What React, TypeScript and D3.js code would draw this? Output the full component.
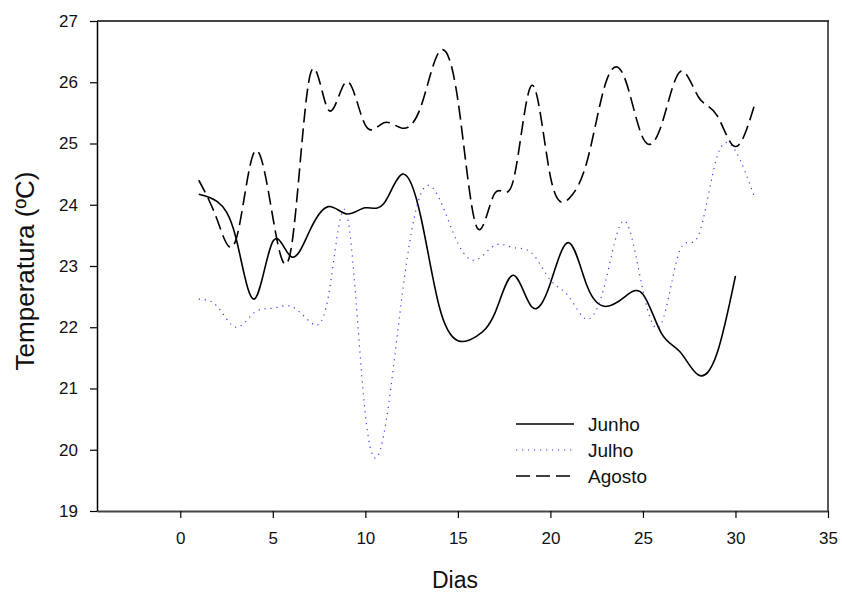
import React, { useEffect, useRef } from 'react';
import * as d3 from 'd3';

const days = d3.range(1, 32);

const junho = [
  24.17, 24.05, 23.47, 22.46, 23.4, 23.15, 23.58, 23.97, 23.85, 23.95,
  24.02, 24.5, 23.8, 22.33, 21.78, 21.85, 22.23, 22.85, 22.33, 22.72,
  23.38, 22.66, 22.34, 22.49, 22.54, 21.9, 21.6, 21.22, 21.57, 22.84
];

const julho = [
  22.46, 22.34, 22.0, 22.24, 22.31, 22.34, 22.09, 22.5, 23.85, 20.58,
  20.25, 22.55, 24.18, 24.1, 23.37, 23.1, 23.34, 23.3, 23.21, 22.77,
  22.5, 22.13, 22.77, 23.74, 22.6, 22.06, 23.26, 23.5, 24.78, 24.88,
  24.15
];

const agosto = [
  24.4, 23.75, 23.42, 24.86, 23.8, 23.3, 26.1, 25.55, 26.01, 25.3,
  25.34, 25.25, 25.6, 26.5, 25.71, 23.65, 24.19, 24.4, 25.95, 24.46,
  24.1, 24.73, 26.0, 26.08, 25.09, 25.3, 26.17, 25.76, 25.46, 24.95,
  25.6
];

const xTicks = [0, 5, 10, 15, 20, 25, 30, 35];
const yTicks = [19, 20, 21, 22, 23, 24, 25, 26, 27];

const series = [
  { name: 'Junho', values: junho, stroke: '#000', dash: null, width: 1.6 },
  { name: 'Julho', values: julho, stroke: '#3a3aff', dash: '1.2,4.8', width: 1.2 },
  { name: 'Agosto', values: agosto, stroke: '#000', dash: '14,6', width: 1.6 }
];

export default function App() {
  const svgRef = useRef(null);

  useEffect(() => {
    const svg = d3.select(svgRef.current);
    svg.selectAll('*').remove();

    const W = 842;
    const H = 596;
    const left = 97, right = 828, top = 21, bottom = 511;
    const font = 'Arial, "Liberation Sans", sans-serif';

    svg.attr('width', W).attr('height', H);

    const x = d3.scaleLinear().domain([-4.5, 35]).range([left, right]);
    const y = d3.scaleLinear().domain([19, 27]).range([bottom, top]);

    // ---- Frame (top / right)
    svg.append('line')
      .attr('x1', left).attr('x2', right + 1)
      .attr('y1', top).attr('y2', top)
      .attr('stroke', '#444').attr('stroke-width', 2);
    svg.append('line')
      .attr('x1', right).attr('x2', right)
      .attr('y1', top).attr('y2', bottom)
      .attr('stroke', '#222').attr('stroke-width', 1.5);

    // ---- Axes
    const bottomAxis = svg.append('g')
      .attr('transform', `translate(0,${bottom})`)
      .call(d3.axisBottom(x).tickValues(xTicks).tickSize(7).tickSizeOuter(0).tickPadding(14));
    bottomAxis.select('.domain').attr('stroke', '#444').attr('stroke-width', 2);
    bottomAxis.selectAll('.tick line').attr('stroke', '#000').attr('stroke-width', 1.2);

    const leftAxis = svg.append('g')
      .attr('transform', `translate(${left},0)`)
      .call(d3.axisLeft(y).tickValues(yTicks).tickSize(7).tickSizeOuter(0).tickPadding(12));
    leftAxis.select('.domain').attr('stroke', '#000').attr('stroke-width', 1.5);
    leftAxis.selectAll('.tick line').attr('stroke', '#000').attr('stroke-width', 1.2);

    svg.selectAll('.tick text')
      .style('font-family', font)
      .style('font-size', '17px')
      .attr('fill', '#111');

    // Axis titles
    svg.append('text')
      .attr('x', 455)
      .attr('y', 588)
      .attr('text-anchor', 'middle')
      .style('font-family', font)
      .style('font-size', '23px')
      .attr('fill', '#111')
      .text('Dias');

    svg.append('text')
      .attr('transform', 'translate(34,271) rotate(-90)')
      .attr('text-anchor', 'middle')
      .style('font-family', font)
      .style('font-size', '26px')
      .attr('fill', '#111')
      .text('Temperatura (ºC)');

    // ---- Lines (smooth spline through daily means)
    series.forEach(s => {
      const line = d3.line()
        .x((d, i) => x(days[i]))
        .y(d => y(d))
        .curve(d3.curveNatural);

      svg.append('path')
        .datum(s.values)
        .attr('fill', 'none')
        .attr('stroke', s.stroke)
        .attr('stroke-width', s.width)
        .attr('stroke-dasharray', s.dash)
        .attr('d', line);
    });

    // ---- Legend
    const legend = svg.append('g').attr('transform', 'translate(516,424)');
    series.forEach((s, i) => {
      const row = legend.append('g').attr('transform', `translate(0,${i * 26})`);
      row.append('line')
        .attr('x1', 0).attr('x2', 58)
        .attr('y1', 0).attr('y2', 0)
        .attr('stroke', s.stroke)
        .attr('stroke-width', s.width)
        .attr('stroke-dasharray', s.dash);
      row.append('text')
        .attr('x', 72)
        .attr('y', 7)
        .style('font-family', font)
        .style('font-size', '19px')
        .attr('fill', '#111')
        .text(s.name);
    });
  }, []);

  return (
    <div style={{ position: 'absolute', left: 0, top: 0 }}>
      <svg ref={svgRef} />
    </div>
  );
}
